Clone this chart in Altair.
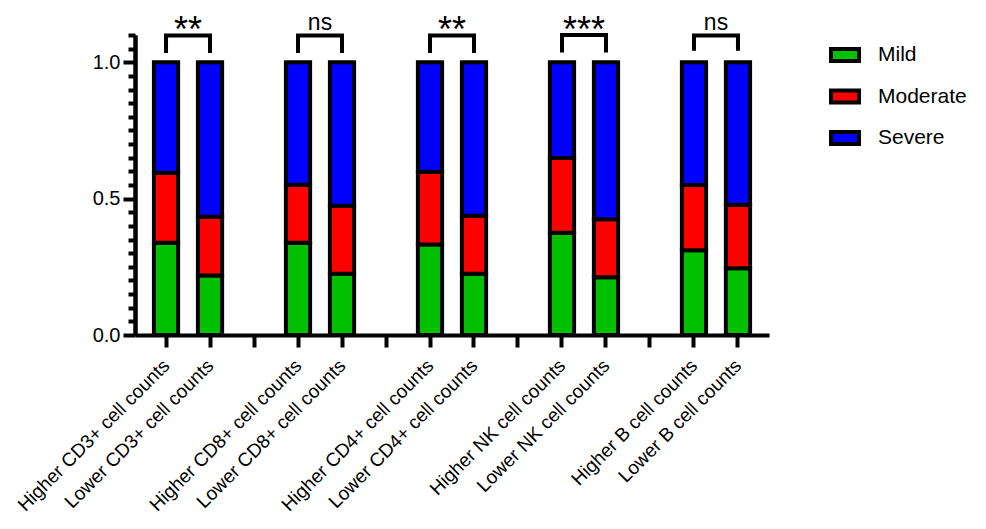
import altair as alt
import pandas as pd

categories = [
    "Higher CD3+ cell counts", "Lower CD3+ cell counts", "gap1",
    "Higher CD8+ cell counts", "Lower CD8+ cell counts", "gap2",
    "Higher CD4+ cell counts", "Lower CD4+ cell counts", "gap3",
    "Higher NK cell counts", "Lower NK cell counts", "gap4",
    "Higher B cell counts", "Lower B cell counts",
]
bar_cells = [c for c in categories if not c.startswith("gap")]
severity = ["Mild", "Moderate", "Severe"]
colors = ["#00C000", "#FF0000", "#0000FF"]

mild = [0.338, 0.218, 0.338, 0.225, 0.332, 0.225, 0.375, 0.212, 0.311, 0.245]
moderate = [0.257, 0.216, 0.213, 0.249, 0.267, 0.212, 0.274, 0.212, 0.239, 0.233]
severe = [0.405, 0.566, 0.449, 0.526, 0.401, 0.563, 0.351, 0.576, 0.450, 0.522]

sig_labels = ["**", "ns", "**", "***", "ns"]
sig_y = [1.073, 1.118, 1.073, 1.073, 1.118]
sig_size = [36, 23, 36, 36, 23]
bracket_top = [1.098, 1.098, 1.098, 1.100, 1.098]
bracket_leg = [1.034, 1.034, 1.034, 1.036, 1.042]

y_major = [0.0, 0.5, 1.0]
y_minor = [0.05, 0.1, 0.15, 0.2, 0.25, 0.3, 0.35, 0.4, 0.45,
           0.55, 0.6, 0.65, 0.7, 0.75, 0.8, 0.85, 0.9, 0.95, 1.05, 1.1]

FONT = "Liberation Sans"

rows = []
for i, cell in enumerate(bar_cells):
    for k, (sev, vals) in enumerate(zip(severity, [mild, moderate, severe])):
        rows.append({"cell": cell, "severity": sev, "value": vals[i], "ord": k})
bar_df = pd.DataFrame(rows)

br_rows = []
txt_rows = []
for g in range(5):
    a, b = bar_cells[2 * g], bar_cells[2 * g + 1]
    pts = [(a, bracket_leg[g]), (a, bracket_top[g]), (b, bracket_top[g]), (b, bracket_leg[g])]
    for j, (c, yv) in enumerate(pts):
        br_rows.append({"cell": c, "y": yv, "grp": g, "ord": j})
    txt_rows.append({"cell": a, "y": sig_y[g], "label": sig_labels[g], "size": sig_size[g]})
br_df = pd.DataFrame(br_rows)
txt_df = pd.DataFrame(txt_rows)

x_scale = alt.Scale(domain=categories, paddingInner=0.45, paddingOuter=0.43)
x_enc = alt.X(
    "cell:N",
    sort=categories,
    scale=x_scale,
    axis=alt.Axis(
        title=None,
        labelAngle=-45,
        labelFont=FONT,
        labelFontSize=19,
        labelColor="black",
        labelExpr="indexof(datum.label, 'gap') == 0 ? '' : datum.label",
        domainColor="black",
        domainWidth=4,
        tickColor="black",
        tickWidth=4,
        tickSize=12,
        labelPadding=9,
        labelOffset=-6,
        labelOverlap=False,
        labelLimit=400,
    ),
)

y_scale = alt.Scale(domain=[0, 1.1], nice=False, zero=True)

bars = alt.Chart(bar_df).mark_bar(stroke="black", strokeWidth=4, opacity=1).encode(
    x=x_enc,
    y=alt.Y(
        "value:Q",
        stack="zero",
        scale=y_scale,
        axis=alt.Axis(
            title=None,
            orient="left",
            values=y_major,
            format=".1f",
            labelFont=FONT,
            labelFontSize=20,
            labelColor="black",
            labelPadding=3,
            labelOverlap=False,
            domainColor="black",
            domainWidth=4,
            tickColor="black",
            tickWidth=4,
            tickSize=12,
            grid=False,
        ),
    ),
    color=alt.Color(
        "severity:N",
        scale=alt.Scale(domain=severity, range=colors),
        legend=alt.Legend(
            title=None,
            orient="none",
            legendX=694,
            legendY=4,
            symbolType="M-1,-0.43H1V0.43H-1Z",
            symbolSize=784,
            symbolStrokeColor="black",
            symbolStrokeWidth=4,
            symbolOpacity=1,
            labelFont=FONT,
            labelFontSize=21,
            labelColor="black",
            labelOffset=17,
            rowPadding=10.5,
            padding=0,
        ),
    ),
    order=alt.Order("ord:Q", sort="ascending"),
)

brackets = alt.Chart(br_df).mark_line(
    color="black", strokeWidth=4, strokeJoin="miter"
).encode(
    x=alt.X("cell:N", sort=categories, scale=x_scale),
    y=alt.Y(
        "y:Q",
        scale=y_scale,
        axis=alt.Axis(
            title=None,
            orient="left",
            values=y_minor,
            labels=False,
            domainColor="black",
            domainWidth=4,
            tickColor="black",
            tickWidth=4,
            tickSize=7,
            grid=False,
        ),
    ),
    detail="grp:N",
    order="ord:Q",
)

texts = alt.Chart(txt_df).mark_text(
    font=FONT, color="black", dx=22, baseline="alphabetic", align="center"
).encode(
    x=alt.X("cell:N", sort=categories, scale=x_scale),
    y=alt.Y("y:Q", scale=y_scale, axis=None),
    text="label:N",
    size=alt.Size("size:Q", scale=None, legend=None),
)

chart = (
    alt.layer(bars, brackets, texts)
    .resolve_axis(y="independent")
    .properties(
        width=634,
        height=300,
        background="white",
        autosize=alt.AutoSizeParams(type="none"),
        padding={"left": 127, "top": 27, "right": 209, "bottom": 186},
    )
    .configure_view(strokeWidth=0, stroke="transparent")
)

chart.save("out.html", embed_options={"renderer": "svg", "actions": False})
